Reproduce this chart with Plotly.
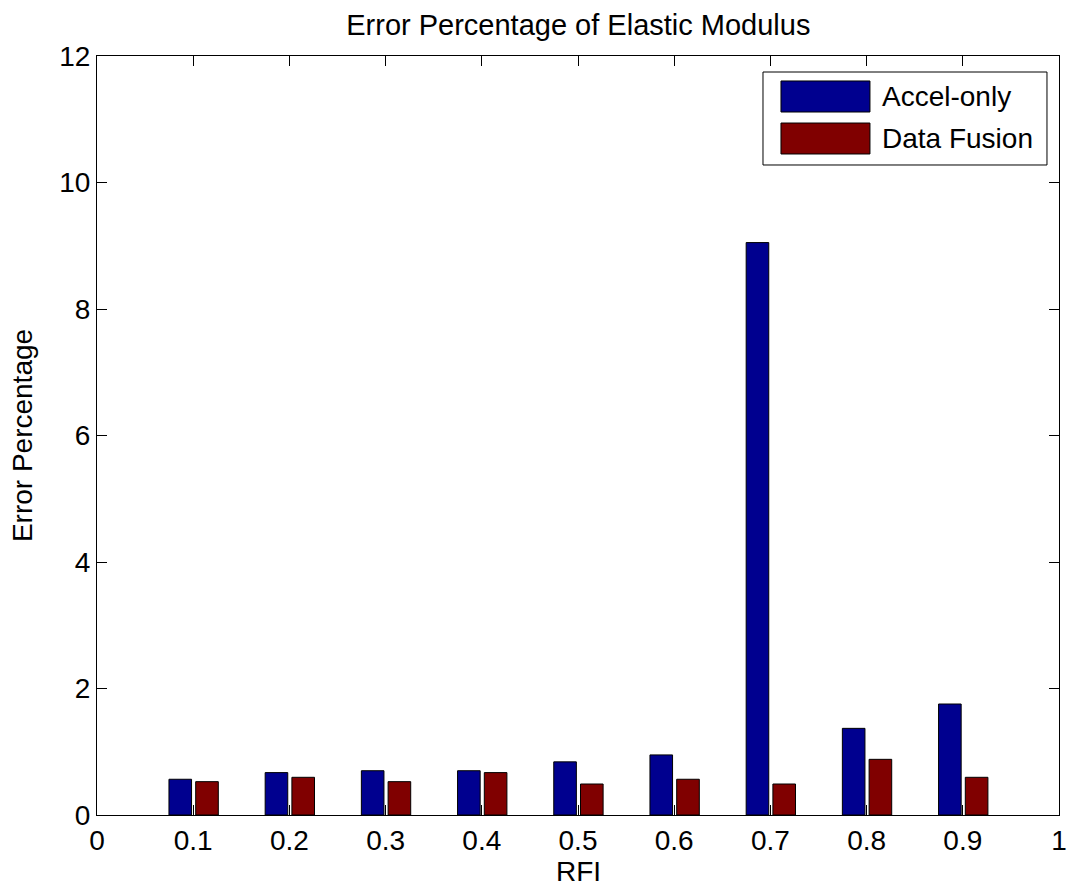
import plotly.graph_objects as go

rfi = [0.1, 0.2, 0.3, 0.4, 0.5, 0.6, 0.7, 0.8, 0.9]
accel_only = [0.565, 0.67, 0.70, 0.70, 0.84, 0.95, 9.05, 1.37, 1.755]
data_fusion = [0.527, 0.596, 0.527, 0.67, 0.49, 0.565, 0.49, 0.88, 0.596]
series_names = ["Accel-only", "Data Fusion"]
x_ticks = [0, 0.1, 0.2, 0.3, 0.4, 0.5, 0.6, 0.7, 0.8, 0.9, 1]
x_tick_labels = ["0", "0.1", "0.2", "0.3", "0.4", "0.5", "0.6", "0.7", "0.8", "0.9", "1"]
y_ticks = [0, 2, 4, 6, 8, 10, 12]

BLUE = "#00008F"
RED = "#800000"
font = "Liberation Sans, Arial, sans-serif"
fs = 28

fig = go.Figure()
fig.add_trace(go.Bar(x=rfi, y=accel_only, name=series_names[0], width=0.0235, offset=-0.0252,
                     marker=dict(color=BLUE, line=dict(color="black", width=1)), showlegend=False))
fig.add_trace(go.Bar(x=rfi, y=data_fusion, name=series_names[1], width=0.0235, offset=0.0026,
                     marker=dict(color=RED, line=dict(color="black", width=1)), showlegend=False))

axis_common = dict(showgrid=False, zeroline=False, showline=True, linecolor="black", linewidth=1,
                   mirror="ticks", ticks="inside", ticklen=10, tickcolor="black", automargin=False,
                   tickfont=dict(family=font, size=fs, color="black"))

# legend drawn as a boxed key (large swatches like the original)
shapes = [
    dict(type="rect", xref="paper", yref="paper", x0=0.6923, x1=0.9875, y0=0.8564, y1=0.9789,
         line=dict(color="black", width=1), fillcolor="white", layer="above"),
    dict(type="rect", xref="paper", yref="paper", x0=0.7110, x1=0.8035, y0=0.9262, y1=0.9671,
         line=dict(color="black", width=1), fillcolor=BLUE, layer="above"),
    dict(type="rect", xref="paper", yref="paper", x0=0.7110, x1=0.8035, y0=0.8709, y1=0.9117,
         line=dict(color="black", width=1), fillcolor=RED, layer="above"),
]
annotations = [
    dict(text=series_names[0], xref="paper", yref="paper", x=0.8139, y=0.9466, xanchor="left", yanchor="middle",
         showarrow=False, font=dict(family=font, size=fs, color="black")),
    dict(text=series_names[1], xref="paper", yref="paper", x=0.8139, y=0.8913, xanchor="left", yanchor="middle",
         showarrow=False, font=dict(family=font, size=fs, color="black")),
    # x-axis title
    dict(text="RFI", xref="paper", yref="paper", x=0.5, y=-0.0738, xanchor="center", yanchor="middle",
         showarrow=False, font=dict(family=font, size=fs, color="black")),
]

fig.update_layout(
    width=1069, height=888,
    margin=dict(l=97, r=10, t=56, b=73),
    paper_bgcolor="white", plot_bgcolor="white",
    barmode="overlay",
    title=dict(text="Error Percentage of Elastic Modulus", x=0.541, xanchor="center", y=0.972, yanchor="middle",
               font=dict(family=font, size=29, color="black")),
    xaxis=dict(range=[0, 1], tickmode="array", tickvals=x_ticks, ticktext=x_tick_labels, **axis_common),
    yaxis=dict(range=[0, 12], tickmode="array", tickvals=y_ticks,
               title=dict(text="Error Percentage", font=dict(family=font, size=fs, color="black"), standoff=18), **axis_common),
    shapes=shapes,
    annotations=annotations,
    showlegend=False,
)

fig.write_html("out.html", config={"displayModeBar": False},
               post_script="document.body.style.margin='0';document.body.style.overflow='hidden';")
